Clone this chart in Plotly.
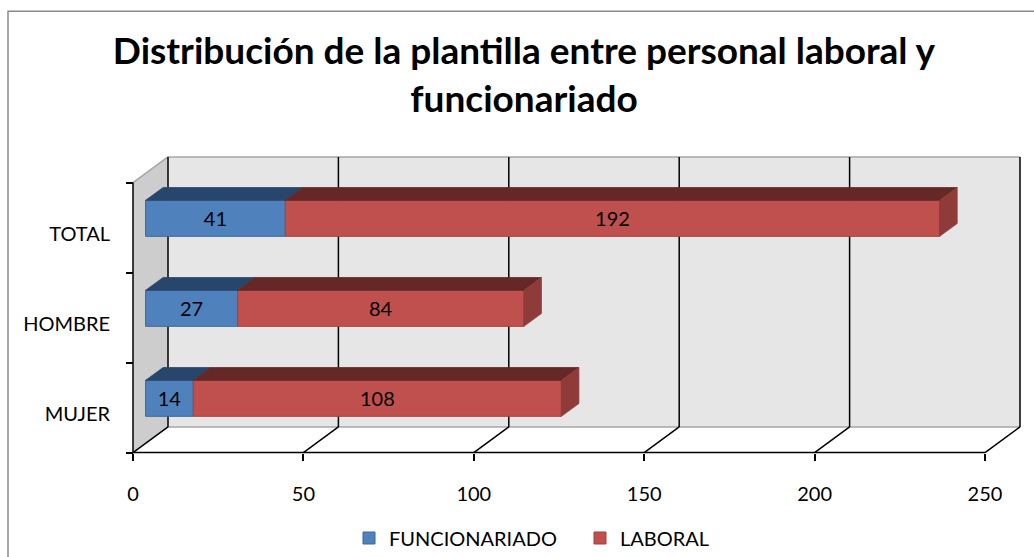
import plotly.graph_objects as go

# ---------------- data ----------------
categories = ["MUJER", "HOMBRE", "TOTAL"]
funcionariado = [14, 27, 41]
laboral = [108, 84, 192]
series_names = ["FUNCIONARIADO", "LABORAL"]
x_ticks = [0, 50, 100, 150, 200, 250]

# ---------------- styling / geometry ----------------
W, H = 1034, 557
FONT = "Lato"
PX_X = 852 / 250.0          # px per value unit
PX_Y = 274 / 3.0            # px per category
DEPTH_PX = (35, 26)         # 3-D depth offset of the back wall
PAD = 3                     # px padding around the 3-D box
DX = DEPTH_PX[0] / PX_X
DY = DEPTH_PX[1] / PX_Y
F0, F1 = 0.36, 0.86         # bar depth (front / back fractions)
BAR_H = 0.40
XMAX = x_ticks[-1]
NCAT = len(categories)

front_colors = ["#4F81BD", "#C0504D"]
edge_colors = ["#3D6899", "#A3403D"]
top_colors = ["#28466C", "#652826"]
side_colors = ["#2F5680", "#8E3B39"]

left_px = 133 - PAD
plot_w = XMAX * PX_X + DEPTH_PX[0] + 2 * PAD
bottom_px = 457 + PAD
plot_h = NCAT * PX_Y + DEPTH_PX[1] + 2 * PAD
margin = dict(l=left_px, r=W - left_px - plot_w, t=bottom_px - plot_h, b=H - bottom_px)

xr = [-PAD / PX_X, XMAX + DX + PAD / PX_X]
yr = [-0.5 - PAD / PX_Y, NCAT - 0.5 + DY + PAD / PX_Y]


def to_paper(px, py):
    return (px - left_px) / plot_w, (bottom_px - py) / plot_h


fig = go.Figure()

# ---------------- bars (front faces) + 3-D faces ----------------
series = [funcionariado, laboral]
cum = [0.0] * NCAT
for s, vals in enumerate(series):
    ys = [i + F0 * DY for i in range(NCAT)]
    bases = [cum[i] + F0 * DX for i in range(NCAT)]
    fig.add_trace(go.Bar(
        orientation="h", y=ys, x=vals, base=bases, width=BAR_H,
        name=series_names[s],
        marker=dict(color=front_colors[s], line=dict(color=edge_colors[s], width=1)),
        text=[str(v) for v in vals], textposition="inside",
        insidetextanchor="middle", textangle=0,
        textfont=dict(family=FONT, size=20, color="black"),
        hoverinfo="skip",
    ))
    # top faces
    tx, ty = [], []
    for i in range(NCAT):
        x0, x1 = cum[i], cum[i] + vals[i]
        yt0 = i + BAR_H / 2 + F0 * DY
        yt1 = i + BAR_H / 2 + F1 * DY
        tx += [x0 + F0 * DX, x1 + F0 * DX, x1 + F1 * DX, x0 + F1 * DX, x0 + F0 * DX, None]
        ty += [yt0, yt0, yt1, yt1, yt0, None]
    fig.add_trace(go.Scatter(
        x=tx, y=ty, mode="lines", fill="toself", fillcolor=top_colors[s],
        line=dict(color=top_colors[s], width=0.8), showlegend=False, hoverinfo="skip",
    ))
    # right side faces (only visible for the last segment)
    if s == len(series) - 1:
        sx, sy = [], []
        for i in range(NCAT):
            x1 = cum[i] + vals[i]
            yb0 = i - BAR_H / 2 + F0 * DY
            yt0 = i + BAR_H / 2 + F0 * DY
            sx += [x1 + F0 * DX, x1 + F1 * DX, x1 + F1 * DX, x1 + F0 * DX, x1 + F0 * DX, None]
            sy += [yb0, yb0 + (F1 - F0) * DY, yt0 + (F1 - F0) * DY, yt0, yb0, None]
        fig.add_trace(go.Scatter(
            x=sx, y=sy, mode="lines", fill="toself", fillcolor=side_colors[s],
            line=dict(color=side_colors[s], width=0.8), showlegend=False, hoverinfo="skip",
        ))
    cum = [cum[i] + vals[i] for i in range(NCAT)]

# ---------------- walls, floor, grid (background shapes) ----------------
shapes = []
yb_back = -0.5 + DY
yt_back = NCAT - 0.5 + DY
shapes.append(dict(type="rect", layer="below", x0=DX, x1=XMAX + DX, y0=yb_back, y1=yt_back,
                   fillcolor="#E6E6E6", line=dict(width=0)))
shapes.append(dict(type="path", layer="below",
                   path=f"M 0 -0.5 L 0 {NCAT - 0.5} L {DX} {yt_back} L {DX} {yb_back} Z",
                   fillcolor="#CDCDCD", line=dict(width=0)))
for yy in (yb_back, yt_back):
    shapes.append(dict(type="line", layer="below", x0=DX, x1=XMAX + DX, y0=yy, y1=yy,
                       line=dict(color="#A6A6A6", width=1.5)))
shapes.append(dict(type="line", layer="below", x0=0, x1=DX, y0=NCAT - 0.5, y1=yt_back,
                   line=dict(color="#A6A6A6", width=1.5)))
for v in x_ticks:
    shapes.append(dict(type="line", layer="below", x0=v + DX, x1=v + DX, y0=yb_back, y1=yt_back,
                       line=dict(color="black", width=1.5)))
    shapes.append(dict(type="line", layer="below", x0=v, x1=v + DX, y0=-0.5, y1=yb_back,
                       line=dict(color="black", width=1.5)))
shapes.append(dict(type="line", layer="below", x0=0, x1=XMAX, y0=-0.5, y1=-0.5,
                   line=dict(color="black", width=1.5)))
shapes.append(dict(type="line", layer="below", x0=0, x1=0, y0=-0.5, y1=NCAT - 0.5,
                   line=dict(color="black", width=1.5)))
# outer chart frame
bx0, by0 = to_paper(8, 600)
_, by1 = to_paper(8, 9)
bx1, _ = to_paper(1060, 9)
shapes.append(dict(type="path", xref="paper", yref="paper", layer="above",
                   path=f"M {bx0} {by0} L {bx0} {by1} L {bx1} {by1}",
                   line=dict(color="#8A8A8A", width=1.5)))

label_shift = 7 / PX_Y
fig.update_layout(
    width=W, height=H, autosize=False, margin=margin,
    paper_bgcolor="white", plot_bgcolor="white",
    barmode="overlay",
    font=dict(family=FONT, size=20, color="black"),
    title=dict(text="Distribución de la plantilla entre personal laboral y<br>funcionariado",
               font=dict(family=FONT, size=37, color="black", weight="bold"),
               x=524 / W, xanchor="center", xref="container",
               y=1 - 64 / H, yanchor="top", yref="container"),
    xaxis=dict(range=xr, tickvals=x_ticks, ticktext=[str(t) for t in x_ticks],
               showgrid=False, zeroline=False, showline=False,
               ticks="outside", ticklen=7, tickwidth=1.5, tickcolor="black",
               anchor="free", position=PAD / plot_h, ticklabelstandoff=16,
               tickfont=dict(family=FONT, size=20)),
    yaxis=dict(range=yr, tickvals=[i - label_shift for i in range(NCAT)], ticktext=categories,
               showgrid=False, zeroline=False, showline=False, ticks="",
               anchor="free", position=PAD / plot_w, ticklabelstandoff=23,
               tickfont=dict(family=FONT, size=20),
               minor=dict(tickmode="array", tickvals=[i - 0.5 for i in range(NCAT + 1)],
                          ticks="outside", ticklen=7, tickwidth=1.5, tickcolor="black",
                          showgrid=False)),
    legend=dict(orientation="h", x=580 / W, xanchor="center", xref="container",
                y=1 - 538 / H, yanchor="middle", yref="container",
                font=dict(family=FONT, size=20), traceorder="normal", itemwidth=30,
                entrywidth=186, entrywidthmode="pixels"),
    shapes=shapes,
    showlegend=True,
)

fig.write_html("out.html", config={"displayModeBar": False},
               post_script="document.body.style.margin='0px';document.body.style.overflow='hidden';")
